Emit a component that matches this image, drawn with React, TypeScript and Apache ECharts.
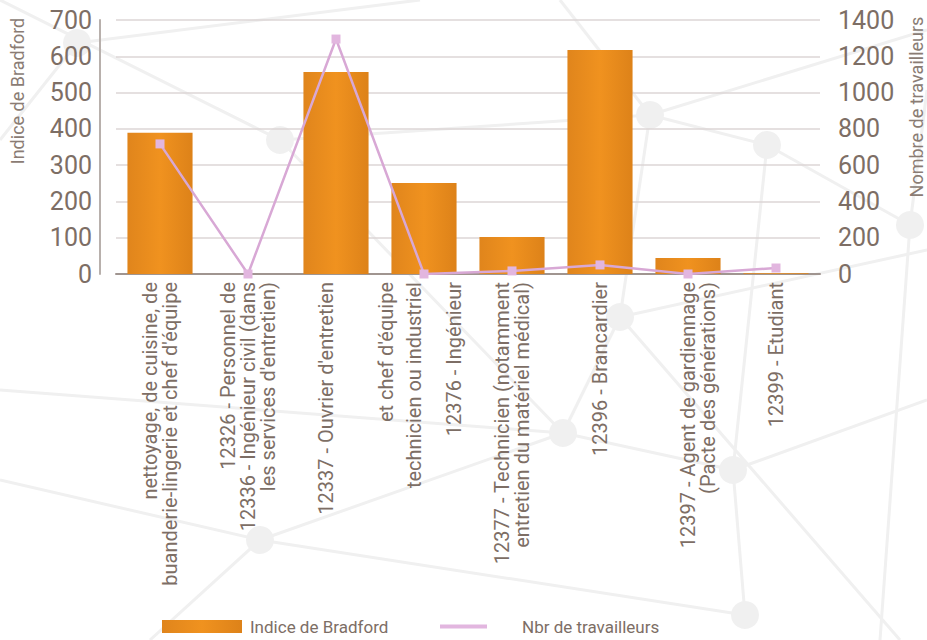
import React, { useEffect, useRef } from "react";
import * as echarts from "echarts";

const categories = [
  "nettoyage, de cuisine, de\nbuanderie-lingerie et chef d'équipe",
  "12326 - Personnel de\n12336 - Ingénieur civil (dans\nles services d'entretien)",
  "\n\n12337 - Ouvrier d'entretien\n\n\net chef d'équipe",
  "\ntechnicien ou industriel\n\n12376 - Ingénieur",
  "12377 - Technicien (notamment\nentretien du matériel médical)",
  "12396 - Brancardier",
  "\n12397 - Agent de gardiennage\n(Pacte des générations)",
  "12399 - Etudiant",
];
const bradford = [389, 0, 557, 251, 102, 617, 44, 2];
const travailleurs = [717, 0, 1295, 0, 17, 50, 0, 33];
const leftTicks = { min: 0, max: 700, interval: 100 };
const rightTicks = { min: 0, max: 1400, interval: 200 };

const nodes: [number, number][] = [
  [77, 43], [280, 140], [650, 115], [767, 145], [910, 225],
  [620, 317], [563, 433], [733, 470], [260, 540], [745, 615],
];
const links: [number, number, number, number][] = [
  [0, 0, 280, 140], [280, 140, 563, 433], [280, 140, 650, 115], [650, 115, 767, 145],
  [767, 145, 910, 225], [910, 225, 927, 90], [650, 115, 620, 317], [620, 317, 563, 433],
  [563, 433, 260, 540], [563, 433, 733, 470], [733, 470, 745, 615], [733, 470, 927, 400],
  [260, 540, 0, 480], [260, 540, 745, 615], [620, 317, 927, 250], [767, 145, 733, 470],
  [77, 43, 0, 140], [77, 43, 420, 0], [650, 115, 560, 0], [910, 225, 880, 640],
  [260, 540, 150, 640], [0, 390, 563, 433], [650, 115, 927, 30], [620, 317, 900, 640],
];

export default function App() {
  const ref = useRef<HTMLDivElement>(null);
  useEffect(() => {
    if (!ref.current) return;
    const chart = echarts.init(ref.current, null, { renderer: "svg" });
    const textColor = "#7d6e65";
    const bg: any[] = [];
    links.forEach(([x1, y1, x2, y2]) =>
      bg.push({ type: "line", z: -10, silent: true, shape: { x1, y1, x2, y2 }, style: { stroke: "#f0f0f0", lineWidth: 3 } })
    );
    nodes.forEach(([cx, cy]) =>
      bg.push({ type: "circle", z: -10, silent: true, shape: { cx, cy, r: 14 }, style: { fill: "#f0f0f0" } })
    );
    bg.push({
      type: "text", x: 17, y: 91, rotation: Math.PI / 2, z: 10,
      style: { text: "Indice de Bradford", fill: "#8a7c74", fontSize: 18, fontFamily: "Roboto", align: "center", verticalAlign: "middle" },
    });
    bg.push({
      type: "text", x: 916, y: 107, rotation: Math.PI / 2, z: 10,
      style: { text: "Nombre de travailleurs", fill: "#8a7c74", fontSize: 18, fontFamily: "Roboto", align: "center", verticalAlign: "middle" },
    });
    chart.setOption({
      animation: false,
      backgroundColor: "#ffffff",
      graphic: bg,
      legend: [
        {
          data: ["Indice de Bradford"],
          left: 162,
          top: 618,
          padding: 0,
          itemWidth: 80,
          itemHeight: 13,
          icon: "rect",
          textStyle: { color: textColor, fontSize: 17, fontFamily: "Roboto", padding: [0, 0, 0, 3] },
        },
        {
          data: ["Nbr de travailleurs"],
          left: 440,
          top: 618,
          padding: 0,
          itemWidth: 47,
          itemHeight: 4,
          icon: "rect",
          textStyle: { color: textColor, fontSize: 17, fontFamily: "Roboto", padding: [0, 0, 0, 30] },
        },
      ],
      grid: { left: 116, right: 107, top: 20, height: 254, outerBoundsMode: "none", containLabel: false },
      xAxis: {
        type: "category",
        data: categories,
        axisLine: { lineStyle: { color: "#a09590", width: 2 } },
        axisTick: { show: false },
        axisLabel: {
          rotate: 90,
          interval: 0,
          color: textColor,
          fontSize: 20,
          fontFamily: "Roboto",
          lineHeight: 20,
          margin: 8,
        },
      },
      yAxis: [
        {
          type: "value",
          ...leftTicks,
          offset: 16,
          axisLine: { show: true, lineStyle: { color: "#b8b0ac", width: 2 } },
          axisLabel: { color: textColor, fontSize: 25, fontFamily: "Roboto", margin: 8 },
          splitLine: { lineStyle: { color: "#dcd6d6", width: 1.5 } },
        },
        {
          type: "value",
          ...rightTicks,
          axisLine: { show: false },
          axisLabel: { color: textColor, fontSize: 25, fontFamily: "Roboto", margin: 18, formatter: (v: number) => String(v) },
          splitLine: { show: false },
        },
      ],
      series: [
        {
          name: "Indice de Bradford",
          type: "bar",
          data: bradford,
          barWidth: "74%",
          itemStyle: {
            color: new echarts.graphic.LinearGradient(0, 0, 1, 0, [
              { offset: 0, color: "#e0851c" },
              { offset: 0.5, color: "#f0921f" },
              { offset: 1, color: "#dd8219" },
            ]),
          },
          z: 2,
        },
        {
          name: "Nbr de travailleurs",
          type: "line",
          yAxisIndex: 1,
          data: travailleurs,
          symbol: "rect",
          symbolSize: 9,
          lineStyle: { color: "#d8a8d5", width: 2.5 },
          itemStyle: { color: "#e2b6df" },
          z: 3,
        },
      ],
    });
    return () => chart.dispose();
  }, []);
  return <div ref={ref} style={{ width: 927, height: 640, position: "fixed", left: 0, top: 0 }} />;
}
